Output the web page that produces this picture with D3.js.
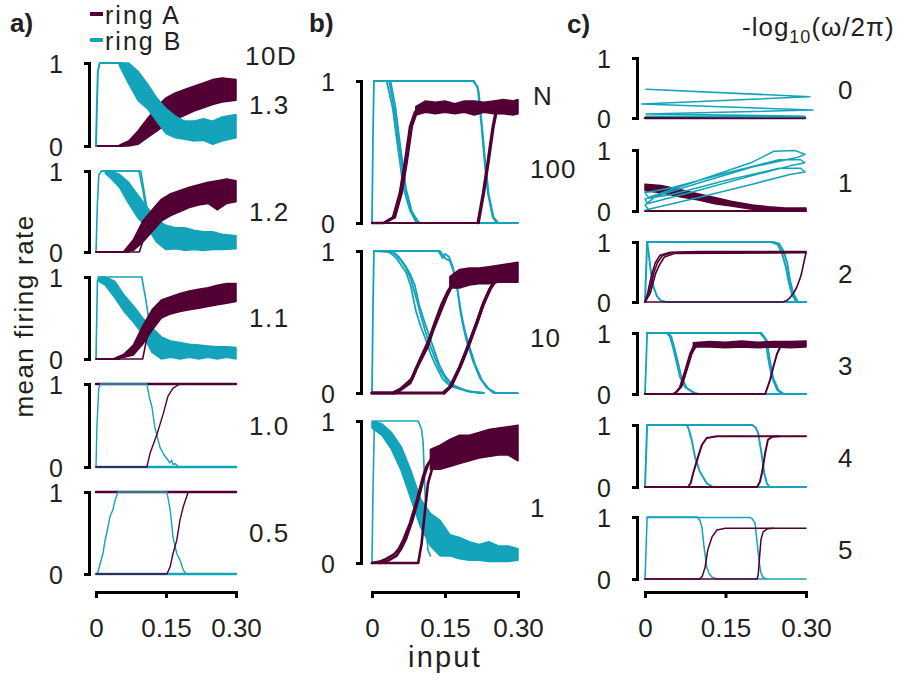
<!DOCTYPE html>
<html>
<head>
<meta charset="utf-8">
<script src="https://cdn.jsdelivr.net/npm/d3@7"></script>
<style>
  body { margin: 0; background: #fff; }
  text { font-family: "Liberation Sans", Arial, sans-serif; fill: #231f20; }
</style>
</head>
<body>
<div id="chart"></div>
<script>
// ---- data (input on x, mean firing rate on y) ----
var xTicks = [0, 0.15, 0.30];
var xTickLabels = ["0", "0.15", "0.30"];
var rowsA = ["1.3", "1.2", "1.1", "1.0", "0.5"];   // 10D
var rowsB = ["100", "10", "1"];                     // N
var rowsC = ["0", "1", "2", "3", "4", "5"];         // -log10(w/2pi)

// bands are [x, low, high] for the noisy bundles, lines are [x, y]
// a) 10D = 1.3
var a1_Bline = [[0,0],[0.002,0.5],[0.004,0.9],[0.008,1],[0.055,1]];
var a1_Bband = [[0.05,0.97,1],[0.07,0.75,1],[0.09,0.55,0.9],[0.11,0.45,0.75],[0.13,0.3,0.58],[0.15,0.15,0.45],[0.17,0.1,0.36],[0.19,0.08,0.3],[0.21,0.06,0.3],[0.23,0.07,0.33],[0.25,0.02,0.3],[0.27,0.06,0.35],[0.30,0.1,0.38]];
var a1_Aline = [[0,0],[0.06,0]];
var a1_Aband = [[0.05,0,0.01],[0.07,0,0.06],[0.09,0.02,0.18],[0.11,0.1,0.33],[0.13,0.18,0.47],[0.15,0.26,0.58],[0.17,0.32,0.64],[0.19,0.37,0.68],[0.21,0.42,0.72],[0.23,0.46,0.76],[0.25,0.5,0.8],[0.27,0.53,0.82],[0.30,0.55,0.8]];
// a) 10D = 1.2
var a2_Bline1 = [[0,0],[0.003,0.6],[0.006,0.95],[0.012,1],[0.092,1],[0.1,0.78],[0.108,0.5],[0.118,0.32],[0.13,0.25]];
var a2_Bline2 = [[0.012,1],[0.096,1],[0.103,0.75],[0.112,0.45],[0.125,0.3]];
var a2_Bband = [[0.02,0.97,1],[0.03,0.92,1],[0.05,0.8,0.96],[0.07,0.6,0.86],[0.09,0.42,0.7],[0.11,0.3,0.55],[0.13,0.12,0.4],[0.15,0.03,0.33],[0.17,0.04,0.3],[0.19,0.02,0.3],[0.21,0.03,0.27],[0.23,0.02,0.25],[0.25,0.03,0.25],[0.27,0.03,0.22],[0.30,0.04,0.2]];
var a2_Aline1 = [[0,0],[0.07,0]];
var a2_Aline2 = [[0.06,0],[0.093,0],[0.1,0.13],[0.11,0.36],[0.12,0.5],[0.13,0.58]];
var a2_Aband = [[0.06,0,0.01],[0.08,0.02,0.15],[0.10,0.12,0.38],[0.12,0.25,0.52],[0.14,0.38,0.65],[0.16,0.45,0.72],[0.18,0.5,0.76],[0.20,0.55,0.8],[0.22,0.58,0.83],[0.24,0.6,0.86],[0.26,0.52,0.88],[0.28,0.6,0.9],[0.30,0.62,0.88]];
// a) 10D = 1.1
var a3_Bline = [[0,0],[0.003,0.95],[0.006,1],[0.098,1],[0.106,0.75],[0.114,0.45],[0.122,0.2],[0.13,0.1]];
var a3_Bband = [[0.005,0.95,1],[0.02,0.9,1],[0.04,0.75,0.95],[0.06,0.58,0.78],[0.08,0.45,0.65],[0.10,0.3,0.5],[0.12,0.08,0.38],[0.14,0,0.27],[0.16,0.02,0.22],[0.18,0,0.2],[0.20,0.02,0.18],[0.22,0,0.17],[0.24,0.02,0.16],[0.26,0,0.15],[0.28,0.02,0.15],[0.30,0,0.14]];
var a3_Aline1 = [[0,0],[0.05,0]];
var a3_Aline2 = [[0.05,0],[0.1,0],[0.107,0.2],[0.115,0.42],[0.125,0.55],[0.135,0.62]];
var a3_Aband = [[0.04,0,0.01],[0.06,0.02,0.06],[0.08,0.05,0.17],[0.10,0.18,0.4],[0.12,0.35,0.6],[0.14,0.5,0.72],[0.16,0.55,0.76],[0.18,0.58,0.8],[0.20,0.6,0.83],[0.22,0.62,0.85],[0.24,0.64,0.87],[0.26,0.66,0.9],[0.28,0.68,0.92],[0.30,0.7,0.92]];
// a) 10D = 1.0
var a4_Bbase = [[0,0],[0.3,0]];
var a4_Atop = [[0,1],[0.3,1]];
var a4_Arise = [[0,0],[0.109,0],[0.116,0.17],[0.131,0.4],[0.144,0.64],[0.154,0.85],[0.165,0.95],[0.18,1]];
var a4_Bfall = [[0,0],[0.002,0.5],[0.006,0.95],[0.01,1],[0.109,1],[0.114,0.85],[0.12,0.72],[0.126,0.48],[0.137,0.24],[0.145,0.15],[0.152,0.1],[0.158,0.05],[0.162,0.08],[0.165,0.03],[0.17,0.04],[0.176,0]];
// a) 10D = 0.5
var a5_Bbase = [[0,0],[0.3,0]];
var a5_Atop = [[0,1],[0.3,1]];
var a5_Arise = [[0,0],[0.152,0],[0.159,0.09],[0.165,0.25],[0.173,0.41],[0.18,0.66],[0.187,0.82],[0.197,0.99],[0.2,1]];
var a5_Brise = [[0,0],[0.004,0.02],[0.01,0.15],[0.015,0.25],[0.019,0.4],[0.023,0.5],[0.03,0.7],[0.036,0.78],[0.041,0.9],[0.047,1],[0.152,1],[0.159,0.78],[0.165,0.45],[0.173,0.25],[0.18,0.17],[0.187,0.05],[0.193,0]];

// b) N = 100
var b1_Blate1 = [[0,0],[0.002,0.6],[0.004,1],[0.207,1],[0.217,0.96],[0.225,0.68],[0.231,0.44],[0.238,0.21],[0.248,0.04],[0.256,0],[0.3,0]];
var b1_Blate2 = [[0.004,1],[0.21,1],[0.219,0.93],[0.227,0.65],[0.233,0.42],[0.24,0.2],[0.25,0.04],[0.26,0]];
var b1_Bearly1 = [[0.004,1],[0.03,1],[0.043,0.8],[0.05,0.61],[0.057,0.44],[0.064,0.25],[0.078,0.09],[0.09,0.01],[0.1,0],[0.3,0]];
var b1_Bearly2 = [[0.004,1],[0.035,1],[0.046,0.8],[0.053,0.61],[0.06,0.44],[0.068,0.25],[0.08,0.09],[0.092,0.01],[0.1,0]];
var b1_Bearly3 = [[0.004,1],[0.038,1],[0.048,0.82],[0.056,0.6],[0.063,0.42],[0.07,0.24],[0.082,0.08],[0.095,0.01],[0.1,0]];
var b1_Aearly1 = [[0,0],[0.023,0],[0.043,0.04],[0.057,0.21],[0.068,0.44],[0.078,0.68],[0.088,0.78],[0.105,0.83]];
var b1_Aearly2 = [[0.025,0],[0.047,0.04],[0.061,0.21],[0.072,0.44],[0.082,0.68],[0.092,0.78],[0.108,0.82]];
var b1_Abase = [[0,0],[0.22,0]];
var b1_Alate1 = [[0.217,0],[0.228,0.21],[0.238,0.44],[0.248,0.68],[0.255,0.8],[0.262,0.83]];
var b1_Alate2 = [[0.219,0],[0.23,0.21],[0.24,0.44],[0.25,0.68],[0.257,0.8],[0.264,0.83]];
var b1_Aband = [[0.09,0.76,0.82],[0.11,0.78,0.86],[0.13,0.77,0.85],[0.15,0.78,0.86],[0.17,0.77,0.84],[0.19,0.78,0.86],[0.21,0.76,0.86],[0.23,0.78,0.85],[0.25,0.77,0.86],[0.27,0.77,0.87],[0.29,0.76,0.86],[0.30,0.77,0.87]];
// b) N = 10
var b2_Blate1 = [[0,0],[0.002,0.6],[0.004,1],[0.136,1],[0.14,0.98],[0.145,0.95],[0.15,0.98],[0.158,0.96],[0.166,0.89],[0.174,0.77],[0.18,0.61],[0.186,0.49],[0.194,0.37],[0.207,0.23],[0.221,0.11],[0.235,0.04],[0.25,0],[0.3,0]];
var b2_Blate2 = [[0.004,1],[0.14,1],[0.15,0.95],[0.16,0.93],[0.168,0.85],[0.176,0.72],[0.183,0.57],[0.19,0.45],[0.2,0.33],[0.212,0.2],[0.226,0.09],[0.24,0.03],[0.255,0]];
var b2_Bearly1 = [[0.004,1],[0.03,1],[0.04,0.98],[0.05,0.95],[0.06,0.9],[0.07,0.85],[0.08,0.75],[0.09,0.58],[0.1,0.47],[0.11,0.38],[0.12,0.28],[0.13,0.2],[0.145,0.1],[0.16,0.05],[0.2,0.01],[0.23,0]];
var b2_Bearly2 = [[0.004,1],[0.038,1],[0.05,0.97],[0.06,0.93],[0.07,0.88],[0.08,0.8],[0.09,0.68],[0.1,0.55],[0.11,0.43],[0.12,0.33],[0.13,0.24],[0.14,0.16],[0.155,0.08],[0.17,0.04],[0.2,0.01],[0.23,0]];
var b2_Bearly3 = [[0.004,1],[0.045,0.99],[0.055,0.96],[0.068,0.9],[0.078,0.84],[0.088,0.76],[0.097,0.62],[0.108,0.5],[0.118,0.4],[0.128,0.3],[0.138,0.2],[0.15,0.12],[0.165,0.06],[0.19,0.02],[0.22,0]];
var b2_Aearly1 = [[0,0],[0.043,0],[0.057,0.02],[0.078,0.07],[0.092,0.18],[0.113,0.32],[0.125,0.44],[0.139,0.56],[0.153,0.68],[0.166,0.77],[0.18,0.82]];
var b2_Aearly2 = [[0.045,0],[0.06,0.03],[0.082,0.1],[0.097,0.22],[0.117,0.37],[0.13,0.5],[0.143,0.62],[0.157,0.72],[0.17,0.79],[0.183,0.83]];
var b2_Alate1 = [[0,0],[0.146,0],[0.16,0.04],[0.18,0.18],[0.194,0.3],[0.215,0.49],[0.227,0.61],[0.242,0.73],[0.256,0.8],[0.265,0.83]];
var b2_Alate2 = [[0.148,0],[0.163,0.05],[0.183,0.2],[0.198,0.33],[0.218,0.52],[0.23,0.64],[0.245,0.75],[0.258,0.81]];
var b2_Aband = [[0.16,0.74,0.82],[0.18,0.74,0.87],[0.20,0.76,0.88],[0.22,0.77,0.88],[0.24,0.77,0.89],[0.26,0.78,0.9],[0.28,0.78,0.91],[0.30,0.78,0.92]];
// b) N = 1
var b3_Bline = [[0,0],[0.002,0.5],[0.005,1],[0.095,1],[0.102,0.94],[0.105,0.85],[0.109,0.49],[0.113,0.18],[0.115,0.09],[0.12,0.05]];
var b3_Bband = [[0,0.95,1],[0.02,0.9,0.98],[0.04,0.8,0.92],[0.06,0.65,0.82],[0.08,0.45,0.65],[0.10,0.25,0.45],[0.12,0.12,0.35],[0.14,0.05,0.3],[0.16,0.05,0.2],[0.18,0.03,0.18],[0.20,0.02,0.15],[0.22,0.02,0.13],[0.24,0.01,0.15],[0.26,0.01,0.12],[0.28,0.01,0.12],[0.30,0.02,0.1]];
var b3_Aearly1 = [[0,0],[0.016,0.01],[0.03,0.03],[0.045,0.06],[0.055,0.1],[0.064,0.16],[0.078,0.28],[0.092,0.44],[0.105,0.61],[0.112,0.68],[0.125,0.75]];
var b3_Aearly2 = [[0.016,0],[0.035,0.02],[0.05,0.05],[0.06,0.1],[0.07,0.17],[0.083,0.3],[0.096,0.46],[0.108,0.62],[0.116,0.7],[0.13,0.76]];
var b3_Alate = [[0,0],[0.095,0],[0.102,0.14],[0.109,0.37],[0.115,0.56],[0.125,0.68],[0.135,0.75]];
var b3_Aband = [[0.12,0.66,0.8],[0.14,0.66,0.83],[0.16,0.68,0.87],[0.18,0.7,0.9],[0.20,0.72,0.9],[0.22,0.74,0.92],[0.24,0.75,0.94],[0.26,0.76,0.95],[0.28,0.76,0.96],[0.30,0.72,0.97]];

// c) -log10(w/2pi) = 0
var c1_Bloop = [[0.002,0.48],[0.307,0.355],[-0.006,0.233],[0.313,0.133],[0.002,0.067],[0.298,0.03]];
var c1_Bline = [[0.002,0.03],[0.298,0.02]];
var c1_Abase = [[0,0],[0.298,0]];
// c) 1
var c2_Bloop = [[0.003,0.02],[0.1,0.22],[0.2,0.44],[0.27,0.6],[0.298,0.64],[0.29,0.7],[0.25,0.7],[0.15,0.5],[0.05,0.27],[0,0.2],[0.004,0.12],
  [0.1,0.34],[0.2,0.58],[0.27,0.74],[0.298,0.79],[0.29,0.84],[0.25,0.84],[0.15,0.62],[0.05,0.38],[0,0.3],[0.006,0.22],
  [0.1,0.5],[0.2,0.8],[0.24,0.98],[0.28,0.99],[0.298,0.93],[0.285,0.88],[0.2,0.72],[0.1,0.46],[0.02,0.24],[0,0.1],[0.005,0.04]];
var c2_Aband = [[0,0.33,0.44],[0.03,0.3,0.42],[0.06,0.24,0.36],[0.10,0.18,0.28],[0.13,0.12,0.22],[0.16,0.08,0.16],[0.20,0.03,0.1],[0.23,0.01,0.07],[0.26,0,0.05],[0.30,0,0.05]];
var c2_Abase = [[0,0],[0.3,0]];
// c) 2
var c3_Blate1 = [[0,0],[0.002,0.5],[0.004,1],[0.239,1],[0.25,0.97],[0.258,0.85],[0.265,0.65],[0.27,0.37],[0.276,0.15],[0.285,0],[0.3,0]];
var c3_Blate2 = [[0.004,1],[0.235,1],[0.247,0.96],[0.255,0.82],[0.262,0.6],[0.268,0.33],[0.274,0.12],[0.282,0]];
var c3_Bearly = [[0.004,1],[0.007,0.8],[0.011,0.5],[0.016,0.25],[0.022,0.1],[0.03,0.02],[0.04,0],[0.3,0]];
var c3_Aearly1 = [[0,0],[0.005,0.15],[0.009,0.32],[0.014,0.5],[0.019,0.65],[0.028,0.78],[0.047,0.83],[0.1,0.84],[0.2,0.84],[0.3,0.84]];
var c3_Aearly2 = [[0,0],[0.007,0.15],[0.012,0.32],[0.017,0.5],[0.023,0.65],[0.032,0.77],[0.05,0.82],[0.3,0.83]];
var c3_Aearly3 = [[0,0],[0.01,0.15],[0.015,0.32],[0.02,0.48],[0.027,0.62],[0.036,0.75],[0.055,0.81],[0.3,0.82]];
var c3_Alate = [[0,0],[0.257,0],[0.265,0.03],[0.27,0.07],[0.277,0.15],[0.283,0.25],[0.29,0.42],[0.293,0.53],[0.297,0.7],[0.3,0.82]];
// c) 3
var c4_Blate1 = [[0,0],[0.002,0.5],[0.004,1],[0.214,1],[0.224,0.9],[0.23,0.56],[0.236,0.28],[0.246,0.07],[0.256,0],[0.3,0]];
var c4_Blate2 = [[0.004,1],[0.217,1],[0.227,0.88],[0.233,0.54],[0.239,0.26],[0.249,0.06],[0.259,0]];
var c4_Bearly1 = [[0.004,1],[0.04,1],[0.046,0.95],[0.052,0.77],[0.059,0.51],[0.065,0.28],[0.075,0.11],[0.09,0.02],[0.1,0],[0.3,0]];
var c4_Bearly2 = [[0.004,1],[0.043,1],[0.049,0.94],[0.055,0.75],[0.062,0.5],[0.068,0.27],[0.078,0.1],[0.092,0.02],[0.1,0]];
var c4_Aearly1 = [[0,0],[0.052,0],[0.058,0.03],[0.065,0.11],[0.075,0.39],[0.084,0.66],[0.09,0.77],[0.1,0.81]];
var c4_Aearly2 = [[0.055,0],[0.068,0.12],[0.078,0.4],[0.087,0.66],[0.094,0.77],[0.105,0.81]];
var c4_Alate = [[0,0],[0.224,0],[0.233,0.23],[0.239,0.44],[0.246,0.66],[0.252,0.77],[0.26,0.81]];
var c4_Aband = [[0.09,0.77,0.84],[0.12,0.77,0.86],[0.15,0.76,0.85],[0.18,0.77,0.87],[0.21,0.76,0.85],[0.24,0.77,0.86],[0.27,0.76,0.86],[0.30,0.77,0.87]];
// c) 4
var c5_Blate = [[0,0],[0.002,0.5],[0.004,1],[0.2,1],[0.206,0.96],[0.211,0.87],[0.218,0.49],[0.222,0.23],[0.227,0.06],[0.232,0],[0.3,0]];
var c5_Bearly = [[0.004,1],[0.078,1],[0.082,0.92],[0.087,0.76],[0.093,0.49],[0.102,0.25],[0.115,0.06],[0.127,0],[0.3,0]];
var c5_Aearly = [[0,0],[0.08,0],[0.085,0.06],[0.09,0.23],[0.099,0.49],[0.106,0.68],[0.115,0.79],[0.134,0.82],[0.3,0.82]];
var c5_Alate = [[0,0],[0.209,0],[0.214,0.08],[0.218,0.23],[0.224,0.55],[0.229,0.76],[0.237,0.81],[0.25,0.82]];
// c) 5
var c6_Bearly = [[0,0],[0.002,0.5],[0.004,1],[0.097,1],[0.102,0.95],[0.106,0.84],[0.11,0.52],[0.115,0.19],[0.12,0.08],[0.125,0.03],[0.134,0],[0.3,0]];
var c6_Blate = [[0.004,0.99],[0.196,0.99],[0.2,0.97],[0.205,0.9],[0.209,0.58],[0.213,0.26],[0.216,0.1],[0.22,0.03],[0.225,0]];
var c6_Aearly = [[0,0],[0.102,0],[0.107,0.05],[0.112,0.19],[0.117,0.47],[0.125,0.68],[0.134,0.79],[0.15,0.82],[0.3,0.82]];
var c6_Alate = [[0,0],[0.209,0],[0.211,0.08],[0.213,0.3],[0.216,0.63],[0.22,0.76],[0.228,0.81],[0.24,0.82]];

// ---- layout ----
var MAROON = "#520034", CYAN = "#13a3ba";
var svgWidth = 906, svgHeight = 683;
var axisY = 592;
var panels = {
  a: { x0: 96,  x1: 236, bx: 89,  tops: [63,171,277,384,492],         bots: [146,252,359,467,574] },
  b: { x0: 372, x1: 518, bx: 361, tops: [81,251,421],                 bots: [223,393,563] },
  c: { x0: 645, x1: 806, bx: 637, tops: [58,150,242,333,425,517],     bots: [118,211,302,394,487,579] }
};

var svg = d3.select("#chart").append("svg")
  .attr("width", svgWidth)
  .attr("height", svgHeight);

// set up one small plot, with its bracket axis
function sub(p, i) {
  var P = panels[p];
  var x = d3.scaleLinear().domain([0, 0.3]).range([P.x0, P.x1]);
  var y = d3.scaleLinear().domain([0, 1]).range([P.bots[i], P.tops[i]]);
  var g = svg.append("g");
  var ax = svg.append("g")
    .attr("transform", `translate(${P.bx},0)`)
    .call(d3.axisLeft(y).tickValues([0, 1]).tickSize(5).tickPadding(21).tickFormat(d3.format("d")));
  ax.select(".domain").attr("stroke-width", 3).attr("stroke", "#000");
  ax.selectAll(".tick line").attr("stroke-width", 3).attr("stroke", "#000");
  ax.selectAll("text").attr("font-size", 25).attr("font-family", null).attr("fill", null).attr("dy", "0.36em");
  return { x: x, y: y, g: g };
}

function line(s, pts, color, w) {
  var gen = d3.line().x(d => s.x(d[0])).y(d => s.y(d[1]));
  s.g.append("path").attr("d", gen(pts))
    .attr("fill", "none").attr("stroke", color)
    .attr("stroke-width", w || 1.6)
    .attr("stroke-linejoin", "round").attr("stroke-linecap", "round");
}

function band(s, rows, color) {
  var gen = d3.area().x(d => s.x(d[0])).y0(d => s.y(d[1])).y1(d => s.y(d[2]));
  s.g.append("path").attr("d", gen(rows))
    .attr("fill", color).attr("stroke", color).attr("stroke-width", 1.5)
    .attr("stroke-linejoin", "round");
}

function bottomAxis(p) {
  var P = panels[p];
  var x = d3.scaleLinear().domain([0, 0.3]).range([P.x0, P.x1]);
  var ax = svg.append("g")
    .attr("transform", `translate(0,${axisY})`)
    .call(d3.axisBottom(x).tickValues(xTicks).tickSize(6).tickPadding(21)
      .tickFormat((d, i) => xTickLabels[i]));
  ax.select(".domain").attr("stroke-width", 3).attr("stroke", "#000");
  ax.selectAll(".tick line").attr("stroke-width", 3).attr("stroke", "#000");
  ax.selectAll("text").attr("font-size", 26).attr("font-family", null).attr("fill", null);
}

// ---- panel a ----
var s;
s = sub("a", 0);
line(s, a1_Aline, MAROON, 2);
band(s, a1_Aband, MAROON);
line(s, a1_Bline, CYAN, 2);
band(s, a1_Bband, CYAN);

s = sub("a", 1);
line(s, a2_Bline1, CYAN); line(s, a2_Bline2, CYAN);
band(s, a2_Bband, CYAN);
line(s, a2_Aline1, MAROON, 2); line(s, a2_Aline2, MAROON);
band(s, a2_Aband, MAROON);

s = sub("a", 2);
line(s, a3_Bline, CYAN);
band(s, a3_Bband, CYAN);
line(s, a3_Aline1, MAROON, 2); line(s, a3_Aline2, MAROON);
band(s, a3_Aband, MAROON);

s = sub("a", 3);
line(s, a4_Bbase, CYAN, 2.5);
line(s, a4_Atop, MAROON, 2.5);
line(s, a4_Bfall, CYAN, 1.4);
line(s, a4_Arise, MAROON, 1.4);

s = sub("a", 4);
line(s, a5_Bbase, CYAN, 2.5);
line(s, a5_Atop, MAROON, 2.5);
line(s, a5_Brise, CYAN, 1.4);
line(s, a5_Arise, MAROON, 1.4);

// ---- panel b ----
s = sub("b", 0);
[b1_Blate1, b1_Blate2, b1_Bearly1, b1_Bearly2, b1_Bearly3].forEach(d => line(s, d, CYAN, 1.8));
line(s, b1_Abase, MAROON, 2);
[b1_Aearly1, b1_Aearly2, b1_Alate1, b1_Alate2].forEach(d => line(s, d, MAROON, 2.4));
band(s, b1_Aband, MAROON);

s = sub("b", 1);
[b2_Blate1, b2_Blate2, b2_Bearly1, b2_Bearly2, b2_Bearly3].forEach(d => line(s, d, CYAN, 1.8));
[b2_Aearly1, b2_Aearly2, b2_Alate1, b2_Alate2].forEach(d => line(s, d, MAROON, 3.2));
band(s, b2_Aband, MAROON);

s = sub("b", 2);
line(s, b3_Bline, CYAN, 1.6);
band(s, b3_Bband, CYAN);
[b3_Aearly1, b3_Aearly2, b3_Alate].forEach(d => line(s, d, MAROON, 2.6));
band(s, b3_Aband, MAROON);

// ---- panel c ----
s = sub("c", 0);
line(s, c1_Abase, MAROON, 2.5);
line(s, c1_Bloop, CYAN, 1.6);
line(s, c1_Bline, CYAN, 1.6);

s = sub("c", 1);
line(s, c2_Abase, MAROON, 2);
band(s, c2_Aband, MAROON);
line(s, c2_Bloop, CYAN, 1.5);

s = sub("c", 2);
[c3_Blate1, c3_Blate2, c3_Bearly].forEach(d => line(s, d, CYAN, 2));
[c3_Aearly1, c3_Aearly2, c3_Aearly3, c3_Alate].forEach(d => line(s, d, MAROON, 1.6));

s = sub("c", 3);
[c4_Blate1, c4_Blate2, c4_Bearly1, c4_Bearly2].forEach(d => line(s, d, CYAN, 1.8));
[c4_Aearly1, c4_Aearly2, c4_Alate].forEach(d => line(s, d, MAROON, 2));
band(s, c4_Aband, MAROON);

s = sub("c", 4);
[c5_Blate, c5_Bearly].forEach(d => line(s, d, CYAN, 2));
[c5_Aearly, c5_Alate].forEach(d => line(s, d, MAROON, 2));

s = sub("c", 5);
[c6_Bearly, c6_Blate].forEach(d => line(s, d, CYAN, 1.5));
[c6_Aearly, c6_Alate].forEach(d => line(s, d, MAROON, 1.5));

// bottom axes
bottomAxis("a"); bottomAxis("b"); bottomAxis("c");

// ---- texts ----
function label(txt, x, y, size, opts) {
  opts = opts || {};
  return svg.append("text").attr("x", x).attr("y", y)
    .attr("font-size", size)
    .attr("font-weight", opts.bold ? "bold" : null)
    .attr("text-anchor", opts.anchor || "start")
    .attr("letter-spacing", opts.ls || null)
    .text(txt);
}

label("a)", 10, 32, 26, { bold: true });
label("b)", 309, 32, 26, { bold: true });
label("c)", 567, 33, 26, { bold: true });

// legend
svg.append("line").attr("x1", 90).attr("x2", 103).attr("y1", 14).attr("y2", 14)
  .attr("stroke", MAROON).attr("stroke-width", 4);
label("ring A", 105, 24, 25, { ls: 2 });
svg.append("line").attr("x1", 90).attr("x2", 103).attr("y1", 40).attr("y2", 40)
  .attr("stroke", CYAN).attr("stroke-width", 4);
label("ring B", 105, 50, 25, { ls: 2 });

// row headers and row labels
label("10D", 245, 65, 26, { ls: 1.5 });
rowsA.forEach((t, i) => label(t, 249, (panels.a.tops[i] + panels.a.bots[i]) / 2 + 9, 26, { ls: 1.5 }));
label("N", 533, 105, 26);
var rowsBy = [178, 347, 517];
rowsB.forEach((t, i) => label(t, 530, rowsBy[i], 26, { ls: 1 }));
var hdr = label("-log", 742, 36, 26, { ls: 1 });
hdr.append("tspan").attr("font-size", 18).attr("dy", 7).text("10");
hdr.append("tspan").attr("dy", -7).text("(\u03c9/2\u03c0)");
rowsC.forEach((t, i) => label(t, 838, (panels.c.tops[i] + panels.c.bots[i]) / 2 + 11, 26));

// axis titles
svg.append("text")
  .attr("transform", "translate(33,316) rotate(-90)")
  .attr("text-anchor", "middle")
  .attr("font-size", 26)
  .attr("letter-spacing", 1.4)
  .text("mean firing rate");
label("input", 445, 667, 29, { anchor: "middle", ls: 2.2 });
</script>
</body>
</html>
